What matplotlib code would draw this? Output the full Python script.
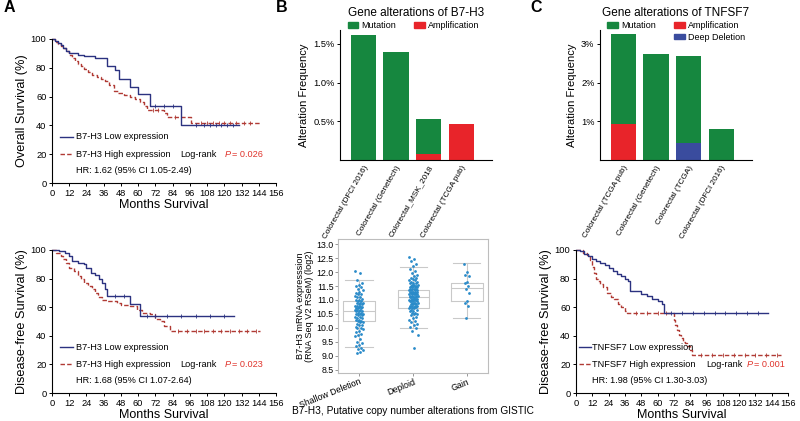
import numpy as np
import matplotlib
matplotlib.use('Agg')
import matplotlib.pyplot as plt
from matplotlib.patches import Patch

plt.rcParams['font.family'] = ['Liberation Sans', 'DejaVu Sans']

# ---- data ----
# A: B7-H3 overall survival (months, % surviving)
os_low_t = [0, 2, 4, 6, 8, 10, 12, 15, 18, 22, 26, 30, 38, 44, 46.5, 54.5, 60, 68, 89.5, 130]
os_low_s = [100, 98.5, 97, 95.5, 94, 92, 90.5, 90, 89, 88.5, 88, 87, 81.5, 78.5, 72, 67, 61.5, 53.5, 40, 40]
os_high_t = [0, 2, 4, 6, 8, 10, 12, 14, 16, 18, 20, 22, 25, 28, 31, 34, 37, 40, 43, 46, 50, 54, 58, 61,
             64, 66, 78, 80, 96.5, 145]
os_high_s = [100, 98, 96.5, 95, 93.5, 91.5, 89, 87, 84.5, 82.5, 81, 79, 77, 75, 73.5, 72.5, 70.5, 68, 64,
             62.5, 61, 60, 58.5, 56, 53.5, 51, 48.5, 46, 41.5, 41.5]
os_low_cens = [72, 78, 84, 100, 106, 110, 114, 118, 122, 126]
os_high_cens = [70, 74, 86, 90, 104, 108, 112, 116, 120, 124, 128, 134, 138]

# A: B7-H3 disease-free survival
dfs_low_t = [0, 5, 9, 12, 14, 18, 22, 24, 27, 30, 33, 35, 37, 38.5, 54, 61, 127]
dfs_low_s = [100, 99, 98, 95.5, 92, 91, 90, 87.5, 84, 82.5, 80, 77, 73, 68, 62.5, 53.5, 53.5]
dfs_high_t = [0, 3, 6, 8, 10, 12, 15, 18, 20, 22, 25, 28, 30, 32, 35, 38, 45, 48, 54, 59, 63, 68, 72,
              75, 78, 82, 145]
dfs_high_s = [100, 98, 96, 93.5, 91, 87.5, 85, 82, 80, 77, 75, 73, 70, 67, 65, 64, 63, 61.5, 60.5, 58,
              56, 55, 52, 50, 47, 43.5, 43.5]
dfs_low_cens = [44, 50, 66, 72, 80, 90, 100, 110, 120]
dfs_high_cens = [88, 94, 100, 106, 112, 118, 124, 130, 136, 142]

# C: TNFSF7 disease-free survival
tn_low_t = [0, 3, 6, 9, 12, 15, 18, 21, 24, 27, 30, 33, 36, 38, 40, 48, 52, 56, 60, 63, 64.5, 141]
tn_low_s = [100, 99, 97.5, 96, 94, 92.5, 91, 89.5, 87.5, 85.5, 83.5, 82, 80, 78, 71, 69.5, 68, 66, 64,
            62.5, 56, 56]
tn_high_t = [0, 5, 8, 10, 11.5, 13, 14.5, 16, 18, 20, 23, 26, 28, 31, 33, 36, 37.8, 72, 73, 74, 76, 77,
             79, 80.5, 82, 84, 85.5, 151]
tn_high_s = [100, 98, 96.5, 93, 88, 84, 80, 78, 76, 74, 70, 67, 66, 62, 60, 57.5, 55.7, 51, 47.5, 44,
             40.5, 38.5, 36, 35, 33, 30, 26.5, 26.5]
tn_low_cens = [70, 78, 86, 94, 102, 110, 118, 126, 134]
tn_high_cens = [44, 52, 60, 66, 92, 100, 108, 116, 124, 132, 140, 148]

# B: B7-H3 alteration frequency (%)
b7_studies = ['Colorectal (DFCI 2016)', 'Colorectal (Genetech)', 'Colorectal_MSK_2018',
              'Colorectal (TCGA pub)']
b7_mutation = [1.62, 1.40, 0.45, 0.0]
b7_amp = [0.0, 0.0, 0.08, 0.47]

# C: TNFSF7 alteration frequency (%)
tn_studies = ['Colorectal (TCGA pub)', 'Colorectal (Genetech)', 'Colorectal (TCGA)',
              'Colorectal (DFCI 2016)']
tn_mutation = [2.34, 2.74, 2.26, 0.79]
tn_amp = [0.92, 0.0, 0.0, 0.0]
tn_deep = [0.0, 0.0, 0.43, 0.0]

# B: B7-H3 mRNA by copy number
cna_groups = ['Shallow Deletion', 'Deploid', 'Gain']
shallow = [12.05, 11.95, 11.7, 11.6, 11.55, 11.5, 11.45, 11.4, 11.35, 11.3, 11.25, 11.2, 11.2, 11.15,
           11.1, 11.1, 11.05, 11.0, 11.0, 10.95, 10.95, 10.9, 10.9, 10.9, 10.85, 10.85, 10.8, 10.8,
           10.8, 10.75, 10.75, 10.7, 10.7, 10.7, 10.65, 10.65, 10.65, 10.6, 10.6, 10.6, 10.55, 10.55,
           10.5, 10.5, 10.5, 10.45, 10.45, 10.4, 10.4, 10.35, 10.35, 10.3, 10.3, 10.25, 10.25, 10.2,
           10.2, 10.15, 10.1, 10.1, 10.05, 10.0, 10.0, 9.95, 9.9, 9.85, 9.8, 9.75, 9.7, 9.6, 9.5,
           9.45, 9.4, 9.35, 9.3, 9.25, 9.2, 9.15, 9.1]
diploid = [12.55, 12.45, 12.4, 12.3, 12.2, 12.1, 12.05, 11.95, 11.9, 11.85, 11.8, 11.8, 11.75, 11.7,
           11.7, 11.65, 11.65, 11.6, 11.6, 11.6, 11.55, 11.55, 11.55, 11.5, 11.5, 11.5, 11.45, 11.45,
           11.45, 11.45, 11.4, 11.4, 11.4, 11.4, 11.35, 11.35, 11.35, 11.35, 11.3, 11.3, 11.3, 11.3,
           11.3, 11.25, 11.25, 11.25, 11.25, 11.2, 11.2, 11.2, 11.2, 11.2, 11.15, 11.15, 11.15, 11.15,
           11.1, 11.1, 11.1, 11.1, 11.1, 11.05, 11.05, 11.05, 11.05, 11.0, 11.0, 11.0, 11.0, 11.0,
           10.95, 10.95, 10.95, 10.95, 10.9, 10.9, 10.9, 10.9, 10.85, 10.85, 10.85, 10.8, 10.8, 10.8,
           10.8, 10.75, 10.75, 10.75, 10.7, 10.7, 10.7, 10.65, 10.65, 10.6, 10.6, 10.55, 10.55, 10.5,
           10.5, 10.45, 10.4, 10.35, 10.3, 10.25, 10.2, 10.15, 10.1, 10.05, 10.0, 9.9, 9.75, 9.3]
gain = [12.3, 12.0, 11.9, 11.85, 11.65, 11.6, 11.5, 11.4, 11.25, 10.95, 10.9, 10.8, 10.35]
# box stats: (whislo, q1, med, q3, whishi)
box_vals = [(9.32, 10.26, 10.62, 10.97, 11.73),
            (10.0, 10.71, 11.1, 11.37, 12.18),
            (10.37, 10.95, 11.43, 11.59, 12.34)]

NAVY = '#2b3280'
DRED = '#b03a34'
PRED = '#e0342c'
GREEN = '#16873f'
RED = '#e8242a'
BLUE = '#3a4c9e'


def km_line(ax, t, s, color, dashed, cens):
    ls = (0, (3.2, 1.6)) if dashed else '-'
    ax.step(t, s, where='post', color=color, lw=1.0, ls=ls, clip_on=False)
    idx = np.searchsorted(t, cens, side='right') - 1
    ax.plot(cens, np.array(s)[idx], ls='none', marker='|', ms=2.5, mew=0.6, color=color)


def km_axes(ax, ylabel):
    ax.set_xlim(0, 156)
    ax.set_ylim(0, 100)
    ax.set_xticks(range(0, 157, 12))
    ax.set_yticks(range(0, 101, 20))
    ax.spines[['top', 'right']].set_visible(False)
    ax.tick_params(labelsize=6.7, length=2.5, width=0.7, pad=1.5)
    ax.set_xlabel('Months Survival', fontsize=9, labelpad=1)
    ax.set_ylabel(ylabel, fontsize=9.2, labelpad=2)


def km_key(ax, low, high, p, hr, x0, x1, xt, xlr, xp):
    ax.plot([x0, x1], [32, 32], color=NAVY, lw=1.0)
    ax.plot([x0, x1], [20, 20], color=DRED, lw=1.0, ls=(0, (3.2, 1.6)))
    ax.text(xt, 32, low, fontsize=6.6, va='center')
    ax.text(xt, 20, high, fontsize=6.6, va='center')
    ax.text(xlr, 20, 'Log-rank', fontsize=6.6, va='center')
    ax.text(xp, 20, 'P', fontsize=6.6, va='center', color=PRED, style='italic')
    ax.text(xp + 5.5, 20, '= ' + p, fontsize=6.6, va='center', color=PRED)
    ax.text(xt, 8.5, hr, fontsize=6.6, va='center')


fig = plt.figure(figsize=(8, 4.21), dpi=100)

# A top
ax = fig.add_axes([0.065, 0.5653, 0.28, 0.3421])
km_line(ax, os_high_t, os_high_s, DRED, True, os_high_cens)
km_line(ax, os_low_t, os_low_s, NAVY, False, os_low_cens)
km_axes(ax, 'Overall Survival (%)')
km_key(ax, 'B7-H3 Low expression', 'B7-H3 High expression', '0.026',
       'HR: 1.62 (95% CI 1.05-2.49)', 5.6, 14.6, 16.7, 89, 120)

# A bottom
ax = fig.add_axes([0.065, 0.0665, 0.28, 0.3397])
km_line(ax, dfs_high_t, dfs_high_s, DRED, True, dfs_high_cens)
km_line(ax, dfs_low_t, dfs_low_s, NAVY, False, dfs_low_cens)
km_axes(ax, 'Disease-free Survival (%)')
km_key(ax, 'B7-H3 Low expression', 'B7-H3 High expression', '0.023',
       'HR: 1.68 (95% CI 1.07-2.64)', 5.6, 14.6, 16.7, 89, 120)

# C bottom
ax = fig.add_axes([0.72, 0.0665, 0.265, 0.3397])
km_line(ax, tn_high_t, tn_high_s, DRED, True, tn_high_cens)
km_line(ax, tn_low_t, tn_low_s, NAVY, False, tn_low_cens)
km_axes(ax, 'Disease-free Survival (%)')
km_key(ax, 'TNFSF7 Low expression', 'TNFSF7 High expression', '0.001',
       'HR: 1.98 (95% CI 1.30-3.03)', 2.2, 11.3, 11.8, 96, 125.6)


def bar_panel(rect, studies, layers, ymax, ticks, labels, title, leg_handles, leg_anchor):
    ax = fig.add_axes(rect)
    x = np.arange(len(studies))
    bottom = np.zeros(len(studies))
    for vals, color in layers:
        ax.bar(x, vals, width=0.77, bottom=bottom, color=color, lw=0)
        bottom += np.array(vals)
    ax.set_xlim(-0.72, 3.95)
    ax.set_ylim(0, ymax)
    ax.set_yticks(ticks)
    ax.set_yticklabels(labels)
    ax.set_xticks(x)
    ax.set_xticklabels(studies, rotation=60, ha='right', rotation_mode='anchor', fontsize=5.9)
    ax.spines[['top', 'right']].set_visible(False)
    ax.tick_params(axis='y', labelsize=6.7, length=2.5, width=0.7, pad=1.5)
    ax.tick_params(axis='x', length=0, pad=3)
    ax.set_ylabel('Alteration Frequency', fontsize=8, labelpad=3)
    ax.text(0.5, 1.13, title, transform=ax.transAxes, ha='center', va='center', fontsize=8.5)
    ax.legend(handles=leg_handles, ncol=2, loc='upper left', bbox_to_anchor=leg_anchor,
              frameon=False, fontsize=6.5, handlelength=1.2, handleheight=0.6,
              handletextpad=0.35, columnspacing=2.0, labelspacing=0.3, borderpad=0,
              borderaxespad=0)
    return ax


mut = Patch(color=GREEN, label='Mutation')
amp = Patch(color=RED, label='Amplification')
deep = Patch(color=BLUE, label='Deep Deletion')
blank = Patch(color='none', label='')

bar_panel([0.425, 0.62, 0.19, 0.3088], b7_studies, [(b7_amp, RED), (b7_mutation, GREEN)],
          1.68, [0.5, 1.0, 1.5], ['0.5%', '1.0%', '1.5%'], 'Gene alterations of B7-H3',
          [mut, amp], (0.05, 1.07))
bar_panel([0.75, 0.62, 0.19, 0.3088], tn_studies,
          [(tn_amp, RED), (tn_deep, BLUE), (tn_mutation, GREEN)],
          3.36, [1, 2, 3], ['1%', '2%', '3%'], 'Gene alterations of TNFSF7',
          [mut, blank, amp, deep], (0.046, 1.07))

# B bottom: expression by copy number
ax = fig.add_axes([0.4225, 0.114, 0.1875, 0.3183])
stats = []
for lo, q1, med, q3, hi in box_vals:
    stats.append(dict(whislo=lo, q1=q1, med=med, q3=q3, whishi=hi, fliers=[]))
gray = '#c9c9c9'
ax.bxp(stats, positions=[0, 1, 1.98], widths=0.58, showfliers=False,
       boxprops=dict(color=gray, lw=0.8), medianprops=dict(color=gray, lw=0.8),
       whiskerprops=dict(color=gray, lw=0.8), capprops=dict(color=gray, lw=0.8),
       capwidths=0.5)
for pos, vals, w in [(0, shallow, 0.15), (1, diploid, 0.16), (1.98, gain, 0.1)]:
    n = len(vals)
    jit = ((np.arange(n) * 0.618034) % 1 - 0.5) * w
    ax.scatter(pos + jit, vals, s=4, color='#2a8bc9', lw=0, zorder=3)
ax.set_xlim(-0.385, 2.37)
ax.set_ylim(8.39, 13.18)
ax.set_yticks(np.arange(8.5, 13.01, 0.5))
ax.set_yticklabels(['%.1f' % v for v in np.arange(8.5, 13.01, 0.5)])
ax.set_xticks([0, 1, 1.98])
ax.set_xticklabels(cna_groups, rotation=22, ha='right', rotation_mode='anchor', fontsize=6.2)
for sp in ax.spines.values():
    sp.set_color('#bdbdbd')
    sp.set_linewidth(0.8)
ax.tick_params(labelsize=6.3, length=2, width=0.6, color='#888888', pad=1)
ax.set_ylabel('B7-H3 mRNA expresssion\n(RNA Seq V2 RSeM) (log2)', fontsize=6.6, labelpad=2,
              linespacing=1.0)
ax.set_xlabel('B7-H3, Putative copy number alterations from GISTIC', fontsize=7.3)
ax.xaxis.set_label_coords(0.5, -0.285)
ax.xaxis.label.set_va('center')

fig.text(0.004, 0.981, 'A', fontsize=11.5, fontweight='bold', va='center')
fig.text(0.345, 0.982, 'B', fontsize=11.5, fontweight='bold', va='center')
fig.text(0.663, 0.982, 'C', fontsize=11.5, fontweight='bold', va='center')

fig.savefig('out.png', dpi=100)
